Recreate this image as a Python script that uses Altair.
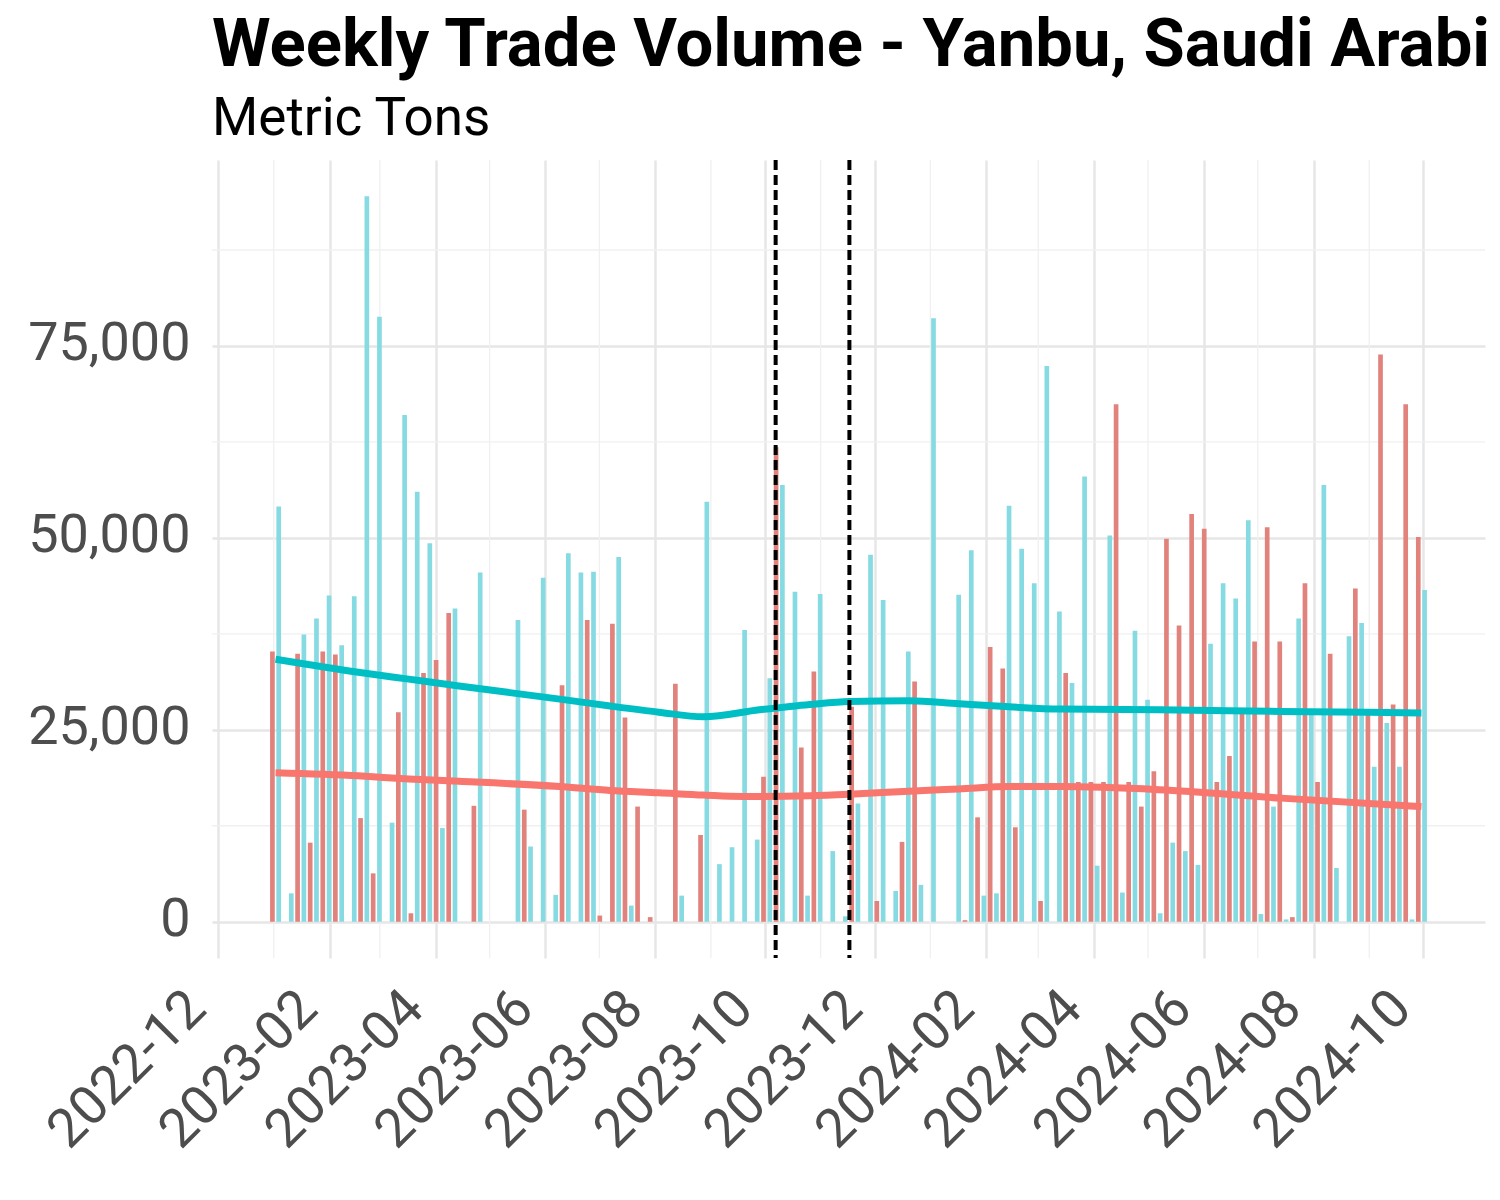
import numpy as np
import pandas as pd
import altair as alt

# ---------------- data (thousands of metric tons, weekly, Mondays) ----------------
first_week = "2023-01-02"
series_names = ["Export", "Import"]          # red, cyan
red_kt = [35.2, 0, 34.9, 10.3, 35.2, 34.8, 0, 13.5, 6.3, 0,
          27.3, 1.1, 32.4, 34.1, 40.2, 0, 15.1, 0, 0, 0,
          14.6, 0, 0, 30.8, 0, 39.3, 0.8, 38.8, 26.6, 15.0,
          0.6, 0, 31.0, 0, 11.3, 0, 0, 0, 0, 18.9,
          61.8, 0, 22.7, 32.6, 0, 0, 28.0, 0, 2.7, 0,
          10.4, 31.3, 0, 0, 0, 0.2, 13.6, 35.8, 33.0, 12.3,
          0, 2.7, 0, 32.4, 18.2, 18.2, 18.2, 67.4, 18.2, 15.0,
          19.6, 49.9, 38.6, 53.1, 51.2, 18.2, 21.6, 27.3, 36.5, 51.4,
          36.5, 0.6, 44.1, 18.2, 34.9, 0, 43.4, 27.2, 73.9, 28.3,
          67.4, 50.1]
cyan_kt = [54.1, 3.7, 37.4, 39.5, 42.5, 36.0, 42.4, 94.5, 78.8, 12.9,
           66.0, 56.0, 49.3, 12.2, 40.8, 0, 45.5, 0, 0, 39.3,
           9.8, 44.8, 3.5, 48.0, 45.5, 45.6, 0, 47.5, 2.1, 0,
           0, 0, 3.4, 0, 54.7, 7.5, 9.7, 38.0, 10.7, 31.7,
           56.9, 43.0, 3.4, 42.7, 9.2, 0.7, 15.4, 47.8, 41.9, 4.0,
           35.2, 4.8, 78.6, 0, 42.6, 48.4, 3.4, 3.7, 54.2, 48.6,
           44.1, 72.4, 40.4, 31.1, 58.0, 7.3, 50.3, 3.8, 37.9, 28.9,
           1.1, 10.3, 9.2, 7.4, 36.2, 44.1, 42.1, 52.3, 1.0, 15.0,
           0.3, 39.5, 27.2, 56.9, 7.0, 37.2, 38.9, 20.2, 25.9, 20.2,
           0.3, 43.2]

# smoothed trend lines (thousands of tons)
smooth_dates = ["2023-01-02", "2023-02-17", "2023-03-17", "2023-04-14", "2023-06-09",
                "2023-07-07", "2023-08-03", "2023-08-28", "2023-09-28", "2023-10-26",
                "2023-11-17", "2023-12-20", "2024-01-17", "2024-02-14", "2024-03-13",
                "2024-05-07", "2024-07-14", "2024-09-30"]
red_smooth_kt = [19.4, 19.0, 18.6, 18.3, 17.6, 17.1, 16.8, 16.5, 16.3, 16.4,
                 16.6, 17.0, 17.3, 17.6, 17.6, 17.2, 16.1, 15.0]
cyan_smooth_kt = [34.2, 32.5, 31.6, 30.7, 29.0, 28.1, 27.3, 26.7, 27.6, 28.3,
                  28.7, 28.8, 28.4, 28.0, 27.7, 27.6, 27.4, 27.2]

event_dates = ["2023-10-07", "2023-11-17"]
major_months = ["2022-12", "2023-02", "2023-04", "2023-06", "2023-08", "2023-10",
                "2023-12", "2024-02", "2024-04", "2024-06", "2024-08", "2024-10"]
minor_months = ["2023-01", "2023-03", "2023-05", "2023-07", "2023-09", "2023-11",
                "2024-01", "2024-03", "2024-05", "2024-07", "2024-09"]
y_major = [0, 25000, 50000, 75000]
y_minor = [12500, 37500, 62500, 87500]

# ---------------- styling ----------------
bar_colors = ["#E2827C", "#86DAE2"]
line_colors = ["#F8766D", "#00BFC4"]
grid_major = "#E6E6E6"
grid_minor = "#F0F0F0"
FONT = "Roboto"

EPOCH = pd.Timestamp("1970-01-01")


def ms(ts):
    return int((pd.Timestamp(ts) - EPOCH) / pd.Timedelta(milliseconds=1))


weeks = pd.date_range(first_week, periods=len(red_kt), freq="7D")

# bars (dodged: red left, cyan right)
rows = []
for i, d in enumerate(weeks):
    for name, vals, off in ((series_names[0], red_kt, -1.75), (series_names[1], cyan_kt, 1.75)):
        c = d + pd.Timedelta(days=off)
        rows.append({"series": name,
                     "x0": ms(c - pd.Timedelta(days=1.3)),
                     "x1": ms(c + pd.Timedelta(days=1.3)),
                     "tons": vals[i] * 1000.0})
bars_df = pd.DataFrame(rows)

line_rows = []
for name, vals in ((series_names[0], red_smooth_kt), (series_names[1], cyan_smooth_kt)):
    for d, v in zip(smooth_dates, vals):
        line_rows.append({"series": name, "t": ms(d), "fit": v * 1000.0})
lines_df = pd.DataFrame(line_rows)

events_df = pd.DataFrame({"d": [ms(s) for s in event_dates]})
minor_x_df = pd.DataFrame({"d": [ms(m + "-01") for m in minor_months]})
minor_y_df = pd.DataFrame({"v": y_minor})


def dt(s):
    y, m = s.split("-")
    return alt.DateTime(year=int(y), month=int(m), date=1, utc=True)


x_scale = alt.Scale(type="utc",
                    domain=[alt.DateTime(year=2022, month=11, date=27, hours=16, utc=True),
                            alt.DateTime(year=2024, month=11, date=4, hours=8, utc=True)])
y_scale = alt.Scale(domain=[-4725, 99225], nice=False, zero=False)

x_axis = alt.Axis(values=[dt(m) for m in major_months], format="%Y-%m", title=None,
                  labelAngle=-45, labelAlign="right", labelBaseline="alphabetic",
                  labelOffset=-10, labelPadding=53, labelFont=FONT, labelFontSize=54,
                  labelColor="#4D4D4D", labelLimit=0, ticks=False, tickSize=0, domain=False,
                  grid=True, gridColor=grid_major, gridWidth=2.4,
                  labelOverlap=False, labelFlush=False, labelBound=False)
y_axis = alt.Axis(values=y_major, format=",.0f", title=None, labelFont=FONT, labelFontSize=54,
                  labelColor="#4D4D4D", labelPadding=22, labelLimit=0, ticks=False, tickSize=0,
                  domain=False, grid=True, gridColor=grid_major, gridWidth=2.4, labelOffset=-2)

minor_v = alt.Chart(minor_x_df).mark_rule(color=grid_minor, strokeWidth=1.3).encode(
    x=alt.X("d:T", scale=x_scale, axis=x_axis))
minor_h = alt.Chart(minor_y_df).mark_rule(color=grid_minor, strokeWidth=1.3).encode(
    y=alt.Y("v:Q", scale=y_scale, axis=y_axis))

bars = alt.Chart(bars_df).mark_rect().encode(
    x=alt.X("x0:T", scale=x_scale, axis=x_axis),
    x2="x1:T",
    y=alt.Y("tons:Q", scale=y_scale, axis=y_axis),
    y2=alt.datum(0),
    fill=alt.Fill("series:N", scale=alt.Scale(domain=series_names, range=bar_colors), legend=None),
)

smooth = alt.Chart(lines_df).mark_line(strokeWidth=7, strokeCap="butt", interpolate="monotone").encode(
    x=alt.X("t:T", scale=x_scale, axis=x_axis),
    y=alt.Y("fit:Q", scale=y_scale, axis=y_axis),
    stroke=alt.Stroke("series:N", scale=alt.Scale(domain=series_names, range=line_colors), legend=None),
)

events = alt.Chart(events_df).mark_rule(color="black", strokeWidth=4, strokeDash=[10, 5]).encode(
    x=alt.X("d:T", scale=x_scale, axis=x_axis))

chart = alt.layer(minor_v, minor_h, bars, smooth, events).properties(
    width=1273, height=798,
    autosize=alt.AutoSizeParams(type="none"),
    padding={"left": 204, "top": 152, "right": 7, "bottom": 228},
    view=alt.ViewBackground(strokeOpacity=0, strokeWidth=0, fill="white"),
    title=alt.TitleParams(text="Weekly Trade Volume - Yanbu, Saudi Arabia", subtitle="Metric Tons",
                          anchor="start", frame="group", font=FONT, fontSize=67, fontWeight="bold",
                          color="black", subtitleFont=FONT, subtitleFontSize=53,
                          subtitleColor="black", subtitlePadding=13.5, offset=11, limit=2000),
).configure_view(stroke="transparent", strokeWidth=0, strokeOpacity=0).configure_axis(
    domain=False, ticks=False
).configure(background="white")

chart.save("out.html", embed_options={"renderer": "svg", "actions": False})
